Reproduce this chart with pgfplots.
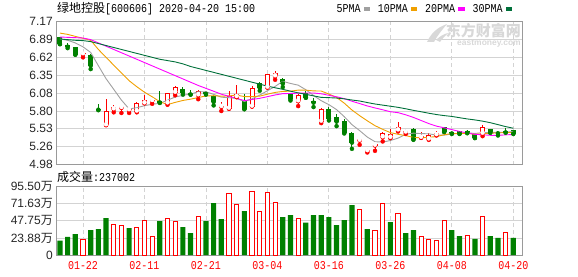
\documentclass[border=0pt]{standalone}
\usepackage{fontspec}
\usepackage{pgfplots}
\usepackage{pgfplotstable}
\pgfplotsset{compat=1.18}
\setmainfont{Liberation Sans}
\newfontfamily\cjk{Noto Sans CJK SC}
\newfontfamily\mono[FakeStretch=0.833]{Liberation Mono}
\definecolor{upred}{HTML}{FF0000}
\definecolor{dngreen}{HTML}{008000}
\definecolor{ma5}{HTML}{A0A0A0}
\definecolor{ma10}{HTML}{F0A000}
\definecolor{ma20}{HTML}{FF00FF}
\definecolor{ma30}{HTML}{00703A}
\definecolor{gridc}{HTML}{D3D3D3}
\definecolor{framec}{HTML}{9A9A9A}
\definecolor{wm}{HTML}{D8D8D8}

% up (red) candles: index, open, high, low, close
\pgfplotstableread{
i O H L C
3 6.675 6.71 6.62 6.68
6 5.59 5.99 5.59 5.80
7 5.834 5.895 5.78 5.854
8 5.855 5.895 5.77 5.86
9 5.82 5.84 5.77 5.825
10 5.80 5.94 5.78 5.91
11 5.925 6.04 5.92 5.955
12 5.96 5.97 5.91 5.966
14 5.925 6.08 5.895 6.063
15 6.088 6.185 6.04 6.154
18 6.048 6.114 5.98 6.104
21 5.87 5.93 5.80 5.875
22 5.845 6.108 5.834 6.022
23 6.022 6.19 6.01 6.048
25 5.875 6.185 5.87 6.15
27 6.165 6.37 6.16 6.36
28 6.338 6.414 6.277 6.37
31 5.956 6.063 5.875 6.032
34 5.646 5.84 5.615 5.82
39 5.355 5.386 5.284 5.366
40 5.195 5.233 5.167 5.198
41 5.28 5.304 5.192 5.289
42 5.406 5.487 5.335 5.452
43 5.40 5.52 5.386 5.44
44 5.512 5.63 5.487 5.554
45 5.48 5.52 5.45 5.49
47 5.40 5.487 5.39 5.415
48 5.375 5.467 5.36 5.425
49 5.44 5.497 5.426 5.452
55 5.462 5.59 5.416 5.554
}\upc

% down (green) candles
\pgfplotstableread{
i O H L C
0 6.92 6.93 6.82 6.83
1 6.80 6.84 6.76 6.79
2 6.77 6.78 6.66 6.67
4 6.65 6.67 6.44 6.50
5 5.825 5.91 5.82 5.82
13 5.946 6.098 5.93 5.93
16 6.13 6.16 6.05 6.088
17 6.07 6.125 6.05 6.06
19 6.09 6.11 6.05 6.07
20 6.027 6.048 5.885 5.946
24 5.946 6.063 5.83 5.834
26 6.221 6.25 6.11 6.16
29 6.282 6.31 6.165 6.226
30 6.053 6.058 5.96 5.987
32 6.068 6.098 6.002 6.012
33 5.94 6.002 5.86 5.935
35 5.824 5.86 5.655 5.692
36 5.707 5.752 5.569 5.646
37 5.64 5.68 5.457 5.477
38 5.462 5.487 5.222 5.325
46 5.518 5.54 5.36 5.375
50 5.549 5.56 5.48 5.488
51 5.47 5.48 5.45 5.465
52 5.49 5.50 5.45 5.46
53 5.49 5.51 5.46 5.475
54 5.437 5.45 5.386 5.396
56 5.518 5.53 5.468 5.477
57 5.472 5.502 5.426 5.467
58 5.49 5.54 5.47 5.48
59 5.502 5.51 5.45 5.462
}\dnc

% moving averages
\pgfplotstableread{
i m5 m10 m20 m30
0 6.90 6.99 6.93 6.90
1 6.88 6.97 6.925 6.89
2 6.84 6.94 6.92 6.88
3 6.78 6.91 6.915 6.875
4 6.694 6.88 6.89 6.86
5 6.492 6.74 6.84 6.83
6 6.294 6.62 6.79 6.80
7 6.131 6.50 6.74 6.77
8 5.967 6.38 6.69 6.74
9 5.832 6.263 6.64 6.71
10 5.850 6.171 6.59 6.68
11 5.881 6.087 6.54 6.65
12 5.903 6.017 6.49 6.62
13 5.917 5.942 6.44 6.59
14 5.965 5.898 6.39 6.57
15 6.014 5.932 6.34 6.55
16 6.040 5.961 6.29 6.52
17 6.059 5.981 6.24 6.48
18 6.094 6.006 6.19 6.45
19 6.095 6.030 6.146 6.42
20 6.054 6.034 6.102 6.39
21 6.011 6.026 6.057 6.36
22 6.003 6.031 6.024 6.33
23 5.992 6.043 5.993 6.30
24 5.945 6.020 5.959 6.27
25 5.986 6.020 5.976 6.24
26 6.043 6.027 5.994 6.21
27 6.110 6.057 6.019 6.18
28 6.175 6.084 6.045 6.155
29 6.253 6.099 6.065 6.131
30 6.221 6.103 6.068 6.103
31 6.195 6.119 6.072 6.077
32 6.125 6.118 6.075 6.055
33 6.038 6.107 6.075 6.031
34 5.957 6.105 6.063 6.008
35 5.898 6.059 6.040 6.004
36 5.821 6.008 6.017 5.998
37 5.714 5.920 5.988 5.986
38 5.592 5.815 5.949 5.968
39 5.501 5.729 5.914 5.953
40 5.402 5.650 5.877 5.929
41 5.331 5.576 5.847 5.907
42 5.326 5.520 5.819 5.890
43 5.349 5.470 5.789 5.873
44 5.386 5.444 5.775 5.856
45 5.445 5.424 5.742 5.834
46 5.462 5.397 5.702 5.810
47 5.455 5.390 5.655 5.789
48 5.452 5.400 5.608 5.766
49 5.431 5.409 5.569 5.746
50 5.431 5.438 5.544 5.730
51 5.449 5.456 5.516 5.717
52 5.458 5.456 5.488 5.698
53 5.468 5.460 5.465 5.679
54 5.457 5.444 5.444 5.664
55 5.470 5.451 5.437 5.645
56 5.472 5.461 5.429 5.622
57 5.474 5.466 5.428 5.592
58 5.475 5.471 5.436 5.562
59 5.488 5.472 5.441 5.537
}\mas

% volume (unit: 10^4)
\pgfplotstableread{
i v
3 21.9
7 42.8
8 41.5
10 38.7
11 48.4
12 26.1
14 51.2
15 47.0
18 54.0
22 86.2
23 71.3
25 89.0
26 61.0
27 87.7
28 73.6
31 51.2
39 63.8
41 34.5
42 72.2
44 58.2
47 26.1
48 21.9
49 20.5
50 48.4
53 27.5
55 54.0
58 32.1
}\volup
\pgfplotstableread{
i v
0 20.0
1 25.2
2 29.3
4 34.9
5 36.3
6 51.7
9 37.7
13 47.5
16 39.1
17 30.7
19 47.5
20 72.7
21 50.3
24 61.5
29 53.1
30 55.9
32 45.2
33 55.9
34 55.9
35 53.1
36 41.9
37 48.9
38 69.9
40 36.3
43 46.1
45 30.7
46 34.9
51 34.9
52 26.5
54 22.4
56 26.5
57 23.8
59 23.8
}\voldn

\pgfplotsset{
  kframe/.style={
    scale only axis, width=466pt,
    xmin=-0.514, xmax=60.13,
    xtick={3,11,19,27,35,43,51,59},
    xmajorgrids, ymajorgrids,
    major x grid style={gridc, line width=0.8pt, dash pattern=on 4pt off 3pt},
    major y grid style={gridc, line width=0.8pt},
    axis line style={framec, line width=1pt},
    tick style={draw=none},
    yticklabel style={font=\fontsize{12}{12}\selectfont, text=black!85, anchor=east, inner sep=0pt, xshift=-3pt},
  },
  candle/.style 2 args={only marks, mark=none, forget plot, color=#1, draw=#1,
    error bars/.cd, y dir=plus, y explicit, error mark=none,
    error bar style={draw=#1, color=#1, line width=#2, line cap=butt, solid}},
}

\begin{document}
\begin{tikzpicture}
\useasboundingbox (0pt,0pt) rectangle (578pt,276pt);

\begin{axis}[kframe, at={(56pt,111.3pt)}, anchor=south west, height=143.4pt,
  ymin=4.98, ymax=7.17,
  ytick={4.98,5.25375,5.5275,5.80125,6.075,6.34875,6.6225,6.89625,7.17},
  yticklabels={4.98,5.26,5.53,5.80,6.08,6.35,6.62,6.89,7.17},
  xticklabels={},
  legend columns=4, legend plot pos=right,
  legend image code/.code={\fill (0pt,-1.7pt) rectangle (5.4pt,1.7pt);},
  legend style={at={(1,1.086)}, anchor=east, xshift=-10pt, draw=none, fill=none,
    font=\mono\fontsize{12}{12}\selectfont, inner sep=0pt,
    /tikz/every odd column/.append style={column sep=1pt},
    /tikz/every even column/.append style={column sep=6pt}},
]
% wicks
\addplot[candle={upred}{1pt}] table[x=i, y=L, y error plus expr={\thisrow{H}-\thisrow{L}}] {\upc};
\addplot[candle={dngreen}{1pt}] table[x=i, y=L, y error plus expr={\thisrow{H}-\thisrow{L}}] {\dnc};
% bodies
\addplot[candle={dngreen}{5pt}] table[x=i, y expr={\thisrow{C}-0.0077}, y error plus expr={\thisrow{O}-\thisrow{C}+0.0153}] {\dnc};
\addplot[candle={upred}{5pt}] table[x=i, y expr={\thisrow{O}-0.0077}, y error plus expr={\thisrow{C}-\thisrow{O}+0.0153}] {\upc};
\addplot[candle={white}{3pt}] table[x=i, y expr={\thisrow{O}+0.0077}, y error plus expr={max(\thisrow{C}-\thisrow{O}-0.0153,0)}] {\upc};
% moving averages
\addplot[ma5, line width=0.9pt, mark=none] table[x=i, y=m5] {\mas};
\addplot[ma10, line width=0.9pt, mark=none] table[x=i, y=m10] {\mas};
\addplot[ma20, line width=0.9pt, mark=none] table[x=i, y=m20] {\mas};
\addplot[ma30, line width=0.9pt, mark=none] table[x=i, y=m30] {\mas};
\legend{5PMA,10PMA,20PMA,30PMA}
\end{axis}

\begin{axis}[kframe, at={(56pt,21pt)}, anchor=south west, height=68.3pt,
  ymin=0, ymax=95.5,
  ytick={0,23.875,47.75,71.625,95.5},
  yticklabels={0,{23.88{\cjk 万}},{47.75{\cjk 万}},{71.63{\cjk 万}},{95.50{\cjk 万}}},
  xticklabels={01-22,02-11,02-21,03-04,03-16,03-26,04-08,04-20},
  xticklabel style={font=\mono\fontsize{12}{12}\selectfont, text=upred, anchor=north, inner sep=0pt, yshift=-6pt},
]
\addplot[ybar, bar width=5.2pt, bar shift=0pt, fill=dngreen, draw=none] table[x=i, y=v] {\voldn};
\addplot[ybar, bar width=4.2pt, bar shift=0pt, fill=white, draw=upred, line width=1pt] table[x=i, y=v] {\volup};
\end{axis}

% title and captions
\node[anchor=west, inner sep=0pt] at (57pt,267.5pt) {\fontsize{12}{12}\selectfont{\cjk 绿地控股}{\mono [600606] 2020-04-20 15:00}};
\node[anchor=west, inner sep=0pt] at (57pt,99pt) {\fontsize{12}{12}\selectfont{\cjk 成交量}{\mono :237002}};
% watermark
\fill[wm] (427pt,234pt) .. controls (431pt,243pt) and (438pt,249pt) .. (447pt,252pt)
  .. controls (442pt,246pt) and (437pt,240pt) .. (434pt,234pt) -- cycle;
\fill[wm] (436pt,236pt) .. controls (440pt,240pt) and (444pt,242pt) .. (448pt,243pt)
  .. controls (445pt,240pt) and (442pt,237pt) .. (440pt,234pt) -- cycle;
\node[anchor=east, inner sep=0pt, text=wm] at (521pt,245.5pt) {\fontsize{15}{15}\selectfont\cjk\bfseries 东方财富网};
\node[anchor=east, inner sep=0pt, text=wm] at (521pt,232.5pt) {\fontsize{8.5}{8.5}\selectfont\bfseries eastmoney.com};
\end{tikzpicture}
\end{document}
